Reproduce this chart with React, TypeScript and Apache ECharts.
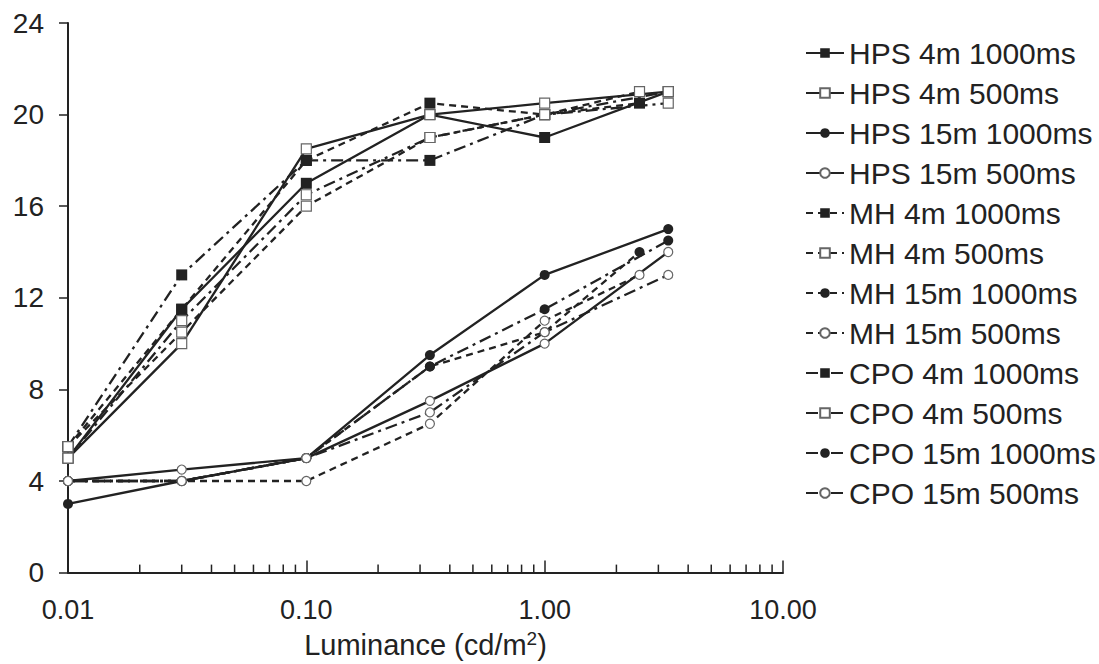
import React, { useEffect, useRef } from "react";
import * as echarts from "echarts";

// Luminance levels (cd/m2) per lamp type
const xHPS = [0.01, 0.03, 0.1, 0.33, 1.0, 3.3];
const xMH = [0.01, 0.03, 0.1, 0.33, 1.0, 2.5];
const xCPO = [0.01, 0.03, 0.1, 0.33, 1.0, 3.3];

// Values
const hps4m1000 = [5, 11.5, 17, 20, 19, 21];
const hps4m500 = [5, 10, 18.5, 20, 20.5, 21];
const hps15m1000 = [3, 4, 5, 9.5, 13, 15];
const hps15m500 = [4, 4.5, 5, 7.5, 10, 14];
const mh4m1000 = [5.5, 11.5, 18, 20.5, 20, 20.5];
const mh4m500 = [5.5, 10.5, 16, 19, 20, 21];
const mh15m1000 = [4, 4, 5, 9, 10.5, 14];
const mh15m500 = [4, 4, 4, 6.5, 11, 13];
const cpo4m1000 = [5.5, 13, 18, 18, 20, 21];
const cpo4m500 = [5, 11, 16.5, 19, 20, 20.5];
const cpo15m1000 = [4, 4, 5, 9, 11.5, 14.5];
const cpo15m500 = [4, 4, 5, 7, 10.5, 13];

const seriesNames = [
  "HPS 4m 1000ms",
  "HPS 4m 500ms",
  "HPS 15m 1000ms",
  "HPS 15m 500ms",
  "MH 4m 1000ms",
  "MH 4m 500ms",
  "MH 15m 1000ms",
  "MH 15m 500ms",
  "CPO 4m 1000ms",
  "CPO 4m 500ms",
  "CPO 15m 1000ms",
  "CPO 15m 500ms",
];

const minorTickValues = [
  0.02, 0.03, 0.04, 0.05, 0.06, 0.07, 0.08, 0.09,
  0.2, 0.3, 0.4, 0.5, 0.6, 0.7, 0.8, 0.9,
  2, 3, 4, 5, 6, 7, 8, 9,
];

const INK = "#222222";
const FONT = "'Liberation Sans', Arial, Helvetica, sans-serif";
const DASHED = [7, 5];
const DASHDOT = [12, 5, 3, 5];

function mk(
  name: string,
  xs: number[],
  ys: number[],
  lineType: any,
  symbol: string,
  filled: boolean
) {
  const isRect = symbol === "rect";
  return {
    name,
    type: "line",
    data: xs.map((x, i) => [x, ys[i]]),
    symbol,
    symbolSize: isRect ? (filled ? 11 : 10) : filled ? 10 : 9,
    lineStyle: { color: INK, width: 2.3, type: lineType },
    itemStyle: {
      color: filled ? INK : "#ffffff",
      borderColor: filled ? INK : "#666666",
      borderWidth: filled ? 0 : 1.2,
    },
    z: filled ? 3 : 4,
  };
}

export default function App() {
  const ref = useRef<HTMLDivElement>(null);

  useEffect(() => {
    document.body.style.margin = "0";
    const chart = echarts.init(ref.current!, undefined, { renderer: "svg" });

    const lines = [
      mk(seriesNames[0], xHPS, hps4m1000, "solid", "rect", true),
      mk(seriesNames[1], xHPS, hps4m500, "solid", "rect", false),
      mk(seriesNames[2], xHPS, hps15m1000, "solid", "circle", true),
      mk(seriesNames[3], xHPS, hps15m500, "solid", "circle", false),
      mk(seriesNames[4], xMH, mh4m1000, DASHED, "rect", true),
      mk(seriesNames[5], xMH, mh4m500, DASHED, "rect", false),
      mk(seriesNames[6], xMH, mh15m1000, DASHED, "circle", true),
      mk(seriesNames[7], xMH, mh15m500, DASHED, "circle", false),
      mk(seriesNames[8], xCPO, cpo4m1000, DASHDOT, "rect", true),
      mk(seriesNames[9], xCPO, cpo4m500, DASHDOT, "rect", false),
      mk(seriesNames[10], xCPO, cpo15m1000, DASHDOT, "circle", true),
      mk(seriesNames[11], xCPO, cpo15m500, DASHDOT, "circle", false),
    ];

    const minorTicks = {
      name: "minorTicks",
      type: "custom",
      silent: true,
      z: 1,
      data: minorTickValues.map((v) => [v, 0]),
      renderItem: (params: any, api: any) => {
        const p = api.coord([api.value(0), 0]);
        return {
          type: "line",
          shape: { x1: p[0], y1: p[1], x2: p[0], y2: p[1] - 8 },
          style: { stroke: INK, lineWidth: 1.5 },
        };
      },
    };

    chart.setOption({
      animation: false,
      backgroundColor: "#ffffff",
      textStyle: { fontFamily: FONT, color: INK },
      grid: { left: 68, top: 23, right: 316, bottom: 87 },
      legend: {
        data: seriesNames,
        orient: "vertical",
        left: 800,
        top: 33,
        itemWidth: 38,
        itemHeight: 12,
        itemGap: 10,
        selectedMode: false,
        textStyle: {
          fontFamily: FONT,
          fontSize: 30,
          lineHeight: 30,
          color: INK,
        },
      },
      xAxis: {
        type: "log",
        logBase: 10,
        min: 0.01,
        max: 10,
        name: "{a|Luminance (cd/m}{s|2}{a|)}",
        nameLocation: "middle",
        nameGap: 54,
        nameTextStyle: {
          rich: {
            a: { fontFamily: FONT, fontSize: 29, color: INK, lineHeight: 32 },
            s: {
              fontFamily: FONT,
              fontSize: 19,
              color: INK,
              verticalAlign: "top",
              lineHeight: 32,
            },
          },
        },
        axisLine: { show: true, lineStyle: { color: INK, width: 2 } },
        axisTick: { show: true, inside: true, length: 12, lineStyle: { color: INK, width: 1.5 } },
        axisLabel: {
          fontFamily: FONT,
          fontSize: 27,
          color: INK,
          margin: 24,
          formatter: (v: number) => Number(v).toFixed(2),
        },
        splitLine: { show: false },
      },
      yAxis: {
        type: "value",
        min: 0,
        max: 24,
        interval: 4,
        axisLine: { show: true, lineStyle: { color: INK, width: 2 } },
        axisTick: { show: true, inside: false, length: 9, lineStyle: { color: INK, width: 1.5 } },
        axisLabel: { fontFamily: FONT, fontSize: 28, color: INK, margin: 24 },
        splitLine: { show: false },
      },
      series: [...lines, minorTicks],
    });

    return () => chart.dispose();
  }, []);

  return <div ref={ref} style={{ width: 1099, height: 664 }} />;
}
